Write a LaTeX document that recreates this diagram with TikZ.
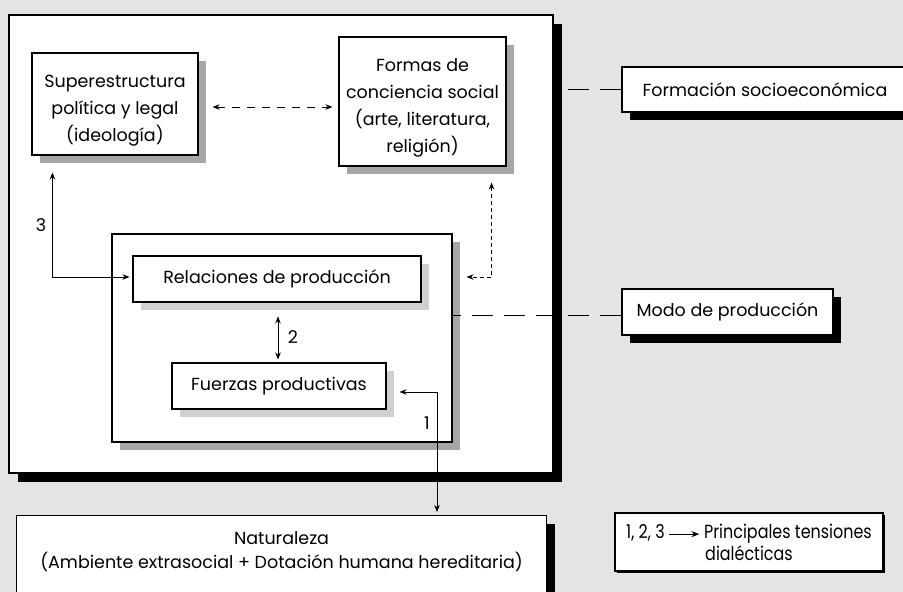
\documentclass[tikz,border=0pt]{standalone}
\usepackage{fontspec}
\setmainfont{Poppins}
\newfontfamily\condfont[FakeStretch=0.84]{Poppins}
\usetikzlibrary{calc,arrows.meta,shadows}
\definecolor{bg}{HTML}{E4E4E4}
\definecolor{midgray}{HTML}{A6A6A6}
\definecolor{ltgray}{HTML}{D0D0D0}
\tikzset{
  shbox/.style 2 args={draw=black, fill=white, line width=1.1pt, inner sep=0pt,
    align=center,
    drop shadow={shadow xshift=#2pt, shadow yshift=-#2pt, fill=#1, draw=none, opacity=1}},
  conn/.style={line width=0.8pt},
  lab/.style={inner sep=0pt},
}
\newcommand{\topstrut}{\rule{0pt}{26pt}}
\begin{document}
\begin{tikzpicture}[x=1pt, y=-1pt, font=\fontsize{17.5}{27}\selectfont,
  >={Stealth[length=7pt,width=5.5pt]}]
\fill[bg] (0,0) rectangle (903,592);
\useasboundingbox (0,0) rectangle (903,592);
\clip (0,0) rectangle (903,592);

% outer box
\node[shbox={black}{9}, minimum width=544pt, minimum height=458pt] (outer) at (281,244) {};

% upper boxes
\node[shbox={midgray}{8}, minimum width=166pt, minimum height=102pt] (sup) at (115,104)
  {\topstrut Superestructura\\política y legal\\(ideología)};
\node[shbox={midgray}{8}, minimum width=167pt, minimum height=129pt] (formas) at (422.5,101.5)
  {\topstrut Formas de\\conciencia social\\(arte, literatura,\\religión)};

% inner box
\node[shbox={midgray}{8}, minimum width=340pt, minimum height=208pt] (inner) at (282,338) {};
\node[shbox={ltgray}{8}, minimum width=288pt, minimum height=46pt] (rel) at (277,279)
  {Relaciones de producción};
\node[shbox={ltgray}{8}, minimum width=214pt, minimum height=46pt] (fuer) at (279,386)
  {Fuerzas productivas};

% right boxes
\node[shbox={black}{8}, minimum width=286pt, minimum height=45pt] (form) at (765,89.5)
  {Formación socioeconómica};
\node[shbox={black}{8}, minimum width=211pt, minimum height=46pt] (modo) at (727.5,312)
  {Modo de producción};

% bottom boxes
\node[shbox={black}{8}, minimum width=530pt, minimum height=120pt, anchor=north west] (nat) at (16,515) {};
\node[lab, align=center, anchor=north, font=\fontsize{17.5}{24}\selectfont] (natlabel) at ($(nat.north)+(0,16)$)
  {Naturaleza\\(Ambiente extrasocial + Dotación humana hereditaria)};
\node[shbox={black}{1.5}, minimum width=268pt, minimum height=58pt,
  font=\condfont\fontsize{19}{22}\selectfont] (legend) at (749,542)
  {1, 2, 3 \tikz[baseline=-4pt]\draw[line width=0.8pt,-{Stealth[length=8pt,width=6pt]}] (0pt,0pt) -- (30pt,0pt); Principales tensiones\\dialécticas};

% connectors
\draw[conn, <->, dash pattern=on 8pt off 7pt] ($(sup.east)+(14,3)$) -- ($(formas.west |- sup.east)+(-6,3)$);
\draw[conn, <->] ($(sup.south west)+(21,17)$) |- ($(rel.west)+(-3,-2)$);
\draw[conn, <->] ($(fuer.north)+(-1,-46)$) -- ($(fuer.north)+(-1,-3)$);
\draw[conn, <->] ($(fuer.east)+(13,6)$) -| ($(nat.north west)+(421,-3)$);
\draw[conn, <->, dash pattern=on 4pt off 3pt] ($(formas.south east)+(-15,16)$) |- ($(rel.east)+(45,-2)$);
\draw[conn, dash pattern=on 21pt off 11pt] (form.west) -- (form.west -| outer.east);
\draw[conn, dash pattern=on 21pt off 11pt] ($(modo.west)+(0,3)$) -- ($(modo.west -| inner.east)+(0,3)$);

% labels
\node[lab] (l3) at (41,225) {3};
\node[lab] (l2) at (293,337) {2};
\node[lab] (l1) at (427,423) {1};
\end{tikzpicture}
\end{document}
